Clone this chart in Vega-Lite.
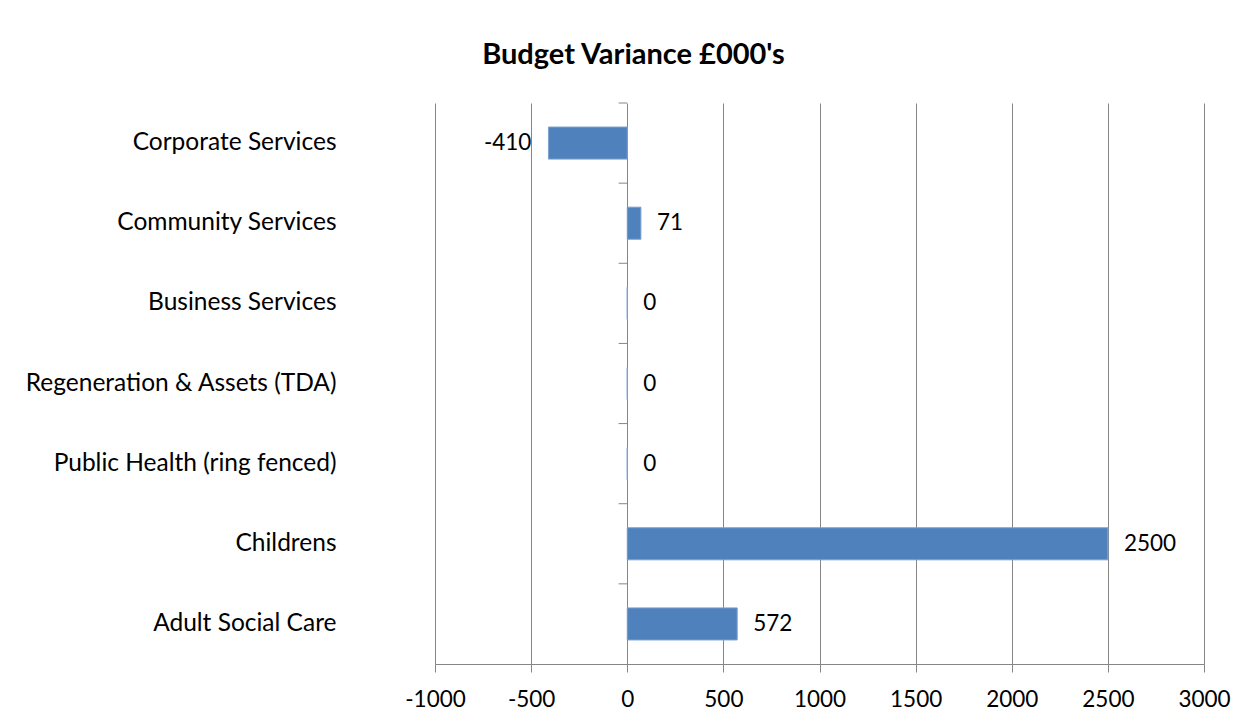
{
  "$schema": "https://vega.github.io/schema/vega-lite/v6.json",
  "width": 769,
  "height": 561,
  "autosize": {"type": "none"},
  "padding": {"left": 435, "top": 103, "right": 56, "bottom": 58},
  "background": "white",
  "config": {
    "view": {"stroke": null},
    "font": "Lato",
    "text": {"font": "Lato"}
  },
  "title": {
    "text": "Budget Variance £000's",
    "font": "Lato",
    "fontSize": 29,
    "fontWeight": "bold",
    "color": "black",
    "anchor": "middle",
    "dx": -186,
    "offset": 33
  },
  "data": {
    "values": [
      {"cat": "Corporate Services", "value": -410},
      {"cat": "Community Services", "value": 71},
      {"cat": "Business Services", "value": 0},
      {"cat": "Regeneration & Assets (TDA)", "value": 0},
      {"cat": "Public Health (ring fenced)", "value": 0},
      {"cat": "Childrens", "value": 2500},
      {"cat": "Adult Social Care", "value": 572}
    ]
  },
  "encoding": {
    "y": {
      "field": "cat",
      "type": "nominal",
      "sort": null,
      "scale": {"paddingInner": 0, "paddingOuter": 0},
      "axis": {
        "title": null,
        "domain": false,
        "ticks": false,
        "labelPadding": 99,
        "labelFont": "Lato",
        "labelFontSize": 24.5,
        "labelColor": "black",
        "labelLimit": 400
      }
    }
  },
  "layer": [
    {
      "mark": {"type": "bar", "height": {"band": 0.4}, "color": "#4F81BD", "stroke": "#7DA1CE", "strokeWidth": 1},
      "encoding": {
        "x": {
          "field": "value",
          "type": "quantitative",
          "scale": {"domain": [-1000, 3000], "nice": false, "zero": false},
          "axis": {
            "title": null,
            "values": [-1000, -500, 0, 500, 1000, 1500, 2000, 2500, 3000],
            "labelExpr": "'' + datum.value",
            "labelFlush": false,
            "labelOverlap": false,
            "grid": true,
            "gridColor": "#868686",
            "gridWidth": 1,
            "domainColor": "#868686",
            "tickColor": "#868686",
            "tickSize": 8,
            "labelPadding": 16,
            "labelFont": "Lato",
            "labelFontSize": 22.5,
            "labelColor": "black"
          }
        }
      }
    },
    {
      "mark": {"type": "rule", "color": "#868686", "strokeWidth": 1},
      "encoding": {
        "y": {"field": "cat", "type": "nominal", "sort": null, "bandPosition": 0},
        "x": {"datum": -45, "type": "quantitative"},
        "x2": {"datum": 0}
      }
    },
    {
      "transform": [{"filter": "datum.value >= 0"}],
      "mark": {"type": "text", "align": "left", "baseline": "middle", "dx": 16, "fontSize": 22.5, "color": "black"},
      "encoding": {
        "x": {"field": "value", "type": "quantitative"},
        "text": {"field": "value", "type": "nominal"}
      }
    },
    {
      "transform": [{"filter": "datum.value < 0"}],
      "mark": {"type": "text", "align": "right", "baseline": "middle", "dx": -17, "fontSize": 22.5, "color": "black"},
      "encoding": {
        "x": {"field": "value", "type": "quantitative"},
        "text": {"field": "value", "type": "nominal"}
      }
    }
  ]
}
